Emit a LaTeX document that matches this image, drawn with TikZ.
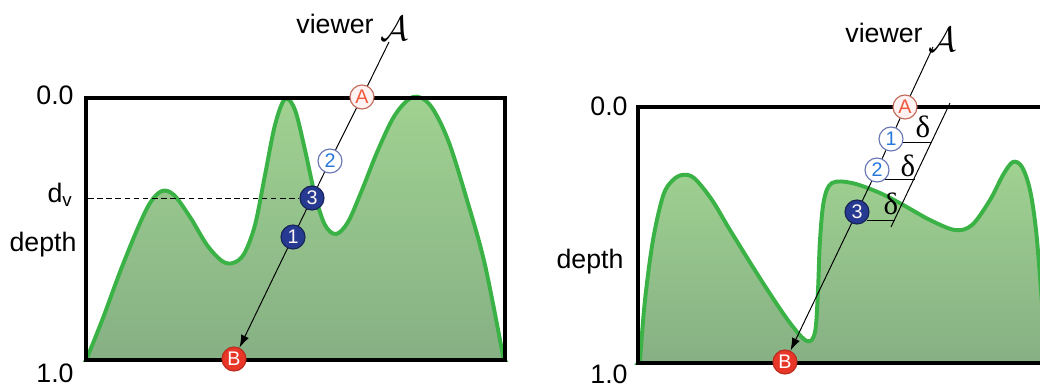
\documentclass[tikz,border=0pt]{standalone}
\usepackage{fontspec}
\setmainfont{Liberation Sans}
\newfontfamily\greekserif{Liberation Serif}
\usepackage{tikz}
\usetikzlibrary{arrows.meta}

\definecolor{ridge}{RGB}{58,178,70}
\definecolor{fillhi}{RGB}{160,210,145}
\definecolor{filllo}{RGB}{134,176,132}
\definecolor{hitblue}{RGB}{38,58,145}
\definecolor{hitred}{RGB}{232,55,40}
\definecolor{numblue}{RGB}{40,120,220}
\definecolor{letterred}{RGB}{238,90,60}

\begin{document}
\begin{tikzpicture}[x=0.025cm,y=-0.025cm,
    lbl/.style={font=\fontsize{19}{22}\selectfont},
    greek/.style={font=\fontsize{22}{24}\selectfont\greekserif},
    eye/.style={font=\fontsize{28}{30}\selectfont,inner sep=0pt},
    frame/.style={line width=3.5pt},
    terrain/.style={draw=ridge,line width=2.8pt,top color=fillhi,bottom color=filllo},
    probe/.style={circle,inner sep=0pt,minimum size=0.6cm,line width=0.8pt,
        font=\fontsize{14}{15}\selectfont},
    probeopen/.style={probe,draw=hitblue!70,fill=white,text=numblue},
    probefull/.style={probe,draw=hitblue!60!black,fill=hitblue,text=white!85!pink},
    probeA/.style={probe,draw=letterred!60!gray,fill=red!5,text=letterred},
    probeB/.style={probe,draw=hitred!80!black,fill=hitred,text=white},
    ray/.style={line width=0.7pt}]
    \useasboundingbox (0,0) rectangle (1040,388);

    \begin{scope}
        \path[terrain] plot[smooth,tension=0.55] coordinates {
            (87,358) (103,318) (120,272) (137,230) (150,203) (162,191)
            (174,195) (190,217) (207,245) (222,261) (233,263) (244,254)
            (255,225) (265,175) (275,125) (285,99) (295,110) (305,150)
            (315,195) (325,225) (336,234) (348,222) (362,190) (378,150)
            (395,115) (413,97) (430,105) (448,140) (467,200) (485,265)
            (503,356)} -- (505,360) -- (86,360) -- cycle;
        \draw[frame] (86,98) rectangle (505,360);

        \node[lbl] (topL) at (55,95) {0.0};
        \node[lbl] (dvL) at (60,195) {d\textsubscript{v}};
        \node[lbl] (depthL) at (43,245) {depth};
        \node[lbl] (oneL) at (55,373) {1.0};
        \node[lbl] (viewL) at (335,24) {viewer};
        \node[eye] (eyeL) at (394,29) {$\mathcal{A}$};
        \coordinate (rayL) at (389,42);
        \coordinate (dv) at (88,198);

        \node[probeA] (aL) at (362,97) {A};
        \node[probeopen] (hitL2) at (330,161) {2};
        \node[probefull] (hitL3) at (312,198) {3};
        \node[probefull] (hitL1) at (293,237) {1};
        \node[probeB] (bL) at (234,359) {B};

        \draw[ray,dash pattern=on 4pt off 2.5pt] (dv) -- (hitL3);
        \foreach \s/\t in {rayL/aL,aL/hitL2,hitL2/hitL3,hitL3/hitL1}
            \draw[ray] (\s) -- (\t);
        \draw[ray,-{Latex[length=9pt,width=6pt]}] (hitL1) -- (bL);
    \end{scope}

    \begin{scope}
        \clip (0,0) rectangle (1040,388);
        \path[terrain] plot[smooth,tension=0.55] coordinates {
            (640,360) (645,300) (653,240) (663,196) (672,181) (682,175)
            (694,178) (712,200) (730,230) (763,283) (790,323) (807,341)
            (815,332) (818,290) (820,240) (824,200) (832,183) (852,183)
            (880,193) (905,206) (930,220) (955,230) (972,225) (990,200)
            (1003,175) (1013,162) (1022,167) (1030,190) (1036,230)
            (1041,290) (1046,363)} -- (1060,363) -- (638,363) -- cycle;
        \draw[frame] (1060,107) -- (638,107) -- (638,363) -- (1060,363);
    \end{scope}

    \node[lbl] (topR) at (609,106) {0.0};
    \node[lbl] (depthR) at (590,262) {depth};
    \node[lbl] (oneR) at (609,374) {1.0};
    \node[lbl] (viewR) at (884,33) {viewer};
    \node[eye] (eyeR) at (942,40) {$\mathcal{A}$};
    \coordinate (rayR) at (933,47);

    % delta steps along the ray
    \coordinate (parTop) at (950,103);
    \coordinate (parBot) at (891,227);
    \coordinate (stop1) at (931,142);
    \coordinate (stop2) at (915,178);
    \coordinate (stop3) at (895,219);
    \draw[ray] (parTop) -- (parBot);

    \node[probeA] (aR) at (905,107) {A};
    \node[probeopen] (hitR1) at (891,139) {1};
    \node[probeopen] (hitR2) at (877,170) {2};
    \node[probefull] (hitR3) at (857,212) {3};
    \node[probeB] (bR) at (785,362) {B};

    \foreach \n/\a in {1/-15,2/-50,3/-40}
        \draw[ray] (hitR\n.\a) -- (hitR\n.\a -| stop\n);
    \node[greek] (delta1) at (923,127) {δ};
    \node[greek] (delta2) at (908,166) {δ};
    \node[greek] (delta3) at (891,204) {δ};

    \foreach \s/\t in {rayR/aR,aR/hitR1,hitR1/hitR2,hitR2/hitR3}
        \draw[ray] (\s) -- (\t);
    \draw[ray,-{Latex[length=9pt,width=6pt]}] (hitR3) -- (bR);
\end{tikzpicture}
\end{document}
